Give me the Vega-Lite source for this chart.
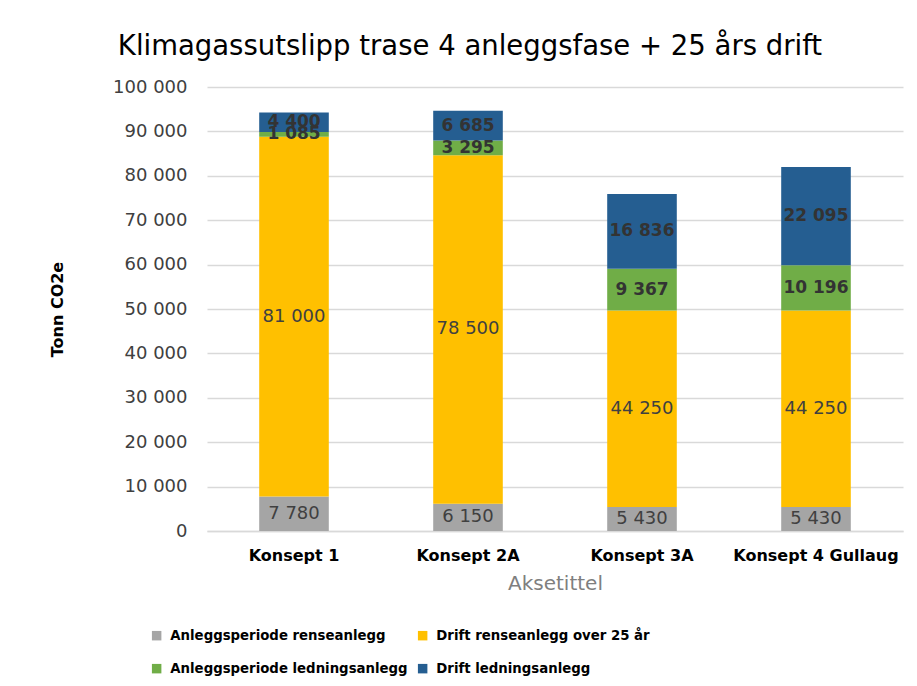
{
  "$schema": "https://vega.github.io/schema/vega-lite/v6.json",
  "autosize": {"type": "none"},
  "width": 696,
  "height": 444,
  "padding": {"left": 207, "top": 87, "right": 14, "bottom": 155},
  "background": "white",
  "config": {
    "font": "DejaVu Sans",
    "view": {"stroke": null},
    "locale": {"number": {"decimal": ",", "thousands": " ", "grouping": [3], "currency": ["", " kr"]}}
  },
  "title": {
    "text": "Klimagassutslipp trase 4 anleggsfase + 25 års drift",
    "font": "DejaVu Sans",
    "fontSize": 27.5,
    "fontWeight": "normal",
    "color": "#000000",
    "anchor": "middle",
    "dx": -85,
    "offset": 18
  },
  "data": {
    "values": [
      {"konsept": "Konsept 1", "kategori": "Anleggsperiode renseanlegg", "nr": 1, "verdi": 7780},
      {"konsept": "Konsept 1", "kategori": "Drift renseanlegg over 25 år", "nr": 2, "verdi": 81000},
      {"konsept": "Konsept 1", "kategori": "Anleggsperiode ledningsanlegg", "nr": 3, "verdi": 1085},
      {"konsept": "Konsept 1", "kategori": "Drift ledningsanlegg", "nr": 4, "verdi": 4400},
      {"konsept": "Konsept 2A", "kategori": "Anleggsperiode renseanlegg", "nr": 1, "verdi": 6150},
      {"konsept": "Konsept 2A", "kategori": "Drift renseanlegg over 25 år", "nr": 2, "verdi": 78500},
      {"konsept": "Konsept 2A", "kategori": "Anleggsperiode ledningsanlegg", "nr": 3, "verdi": 3295},
      {"konsept": "Konsept 2A", "kategori": "Drift ledningsanlegg", "nr": 4, "verdi": 6685},
      {"konsept": "Konsept 3A", "kategori": "Anleggsperiode renseanlegg", "nr": 1, "verdi": 5430},
      {"konsept": "Konsept 3A", "kategori": "Drift renseanlegg over 25 år", "nr": 2, "verdi": 44250},
      {"konsept": "Konsept 3A", "kategori": "Anleggsperiode ledningsanlegg", "nr": 3, "verdi": 9367},
      {"konsept": "Konsept 3A", "kategori": "Drift ledningsanlegg", "nr": 4, "verdi": 16836},
      {"konsept": "Konsept 4 Gullaug", "kategori": "Anleggsperiode renseanlegg", "nr": 1, "verdi": 5430},
      {"konsept": "Konsept 4 Gullaug", "kategori": "Drift renseanlegg over 25 år", "nr": 2, "verdi": 44250},
      {"konsept": "Konsept 4 Gullaug", "kategori": "Anleggsperiode ledningsanlegg", "nr": 3, "verdi": 10196},
      {"konsept": "Konsept 4 Gullaug", "kategori": "Drift ledningsanlegg", "nr": 4, "verdi": 22095}
    ]
  },
  "encoding": {
    "x": {
      "field": "konsept",
      "type": "nominal",
      "sort": null,
      "scale": {"paddingInner": 0.6, "paddingOuter": 0.3},
      "axis": {
        "title": "Aksetittel",
        "titleFont": "DejaVu Sans",
        "titleFontSize": 20,
        "titleFontWeight": "normal",
        "titleColor": "#7f7f7f",
        "titleY": 58,
        "titleBaseline": "alphabetic",
        "labelAngle": 0,
        "labelFont": "DejaVu Sans",
        "labelFontSize": 16,
        "labelFontWeight": "bold",
        "labelColor": "#000000",
        "labelBaseline": "alphabetic",
        "labelPadding": 29,
        "ticks": false,
        "domain": true,
        "domainColor": "#d9d9d9",
        "domainWidth": 1.5
      }
    }
  },
  "layer": [
    {
      "mark": {"type": "bar"},
      "encoding": {
        "y": {
          "field": "verdi",
          "type": "quantitative",
          "stack": "zero",
          "scale": {"domain": [0, 100000], "nice": false},
          "axis": {
            "title": "Tonn CO2e",
            "titleFont": "DejaVu Sans",
            "titleFontSize": 16,
            "titleFontWeight": "bold",
            "titleColor": "#000000",
            "titleX": -150,
            "titleY": 222,
            "titleAlign": "center",
            "titleBaseline": "middle",
            "titleAngle": -90,
            "values": [0, 10000, 20000, 30000, 40000, 50000, 60000, 70000, 80000, 90000, 100000],
            "format": ",.0f",
            "labelFont": "DejaVu Sans",
            "labelFontSize": 18,
            "labelColor": "#404040",
            "labelPadding": 20,
            "labelOverlap": false,
            "ticks": false,
            "domain": false,
            "grid": true,
            "gridColor": "#d9d9d9",
            "gridWidth": 1.5
          }
        },
        "order": {"field": "nr", "type": "quantitative"},
        "color": {
          "field": "kategori",
          "type": "nominal",
          "sort": ["Anleggsperiode renseanlegg", "Drift renseanlegg over 25 år", "Anleggsperiode ledningsanlegg", "Drift ledningsanlegg"],
          "scale": {
            "domain": ["Anleggsperiode renseanlegg", "Drift renseanlegg over 25 år", "Anleggsperiode ledningsanlegg", "Drift ledningsanlegg"],
            "range": ["#A5A5A5", "#FFC000", "#70AD47", "#255E91"]
          },
          "legend": {
            "title": null,
            "orient": "none",
            "legendX": -57,
            "legendY": 542,
            "direction": "horizontal",
            "columns": 2,
            "symbolType": "square",
            "symbolSize": 90,
            "symbolStrokeWidth": 0,
            "labelFont": "DejaVu Sans",
            "labelFontSize": 13.3,
            "labelFontWeight": "bold",
            "labelColor": "#000000",
            "labelOffset": 7,
            "labelLimit": 400,
            "columnPadding": 8,
            "rowPadding": 19
          }
        }
      }
    },
    {
      "mark": {
        "type": "text",
        "font": "DejaVu Sans",
        "fontSize": {"expr": "(datum.nr >= 3) ? 17 : 18"},
        "fontWeight": {"expr": "(datum.nr >= 3) ? 'bold' : 'normal'"},
        "baseline": "middle",
        "align": "center"
      },
      "encoding": {
        "y": {
          "field": "verdi",
          "type": "quantitative",
          "stack": "zero",
          "bandPosition": 0.5,
          "scale": {"domain": [0, 100000], "nice": false},
          "axis": {
            "title": "Tonn CO2e",
            "titleFont": "DejaVu Sans",
            "titleFontSize": 16,
            "titleFontWeight": "bold",
            "titleColor": "#000000",
            "titleX": -150,
            "titleY": 222,
            "titleAlign": "center",
            "titleBaseline": "middle",
            "titleAngle": -90,
            "values": [0, 10000, 20000, 30000, 40000, 50000, 60000, 70000, 80000, 90000, 100000],
            "format": ",.0f",
            "labelFont": "DejaVu Sans",
            "labelFontSize": 18,
            "labelColor": "#404040",
            "labelPadding": 20,
            "labelOverlap": false,
            "ticks": false,
            "domain": false,
            "grid": true,
            "gridColor": "#d9d9d9",
            "gridWidth": 1.5
          }
        },
        "order": {"field": "nr", "type": "quantitative"},
        "text": {"field": "verdi", "type": "quantitative", "format": ",.0f"},
        "color": {
          "field": "kategori",
          "type": "nominal",
          "scale": {
            "domain": ["Anleggsperiode renseanlegg", "Drift renseanlegg over 25 år", "Anleggsperiode ledningsanlegg", "Drift ledningsanlegg"],
            "range": ["#404040", "#404040", "#333333", "#333333"]
          },
          "legend": null
        }
      }
    }
  ],
  "resolve": {"scale": {"color": "independent"}}
}
